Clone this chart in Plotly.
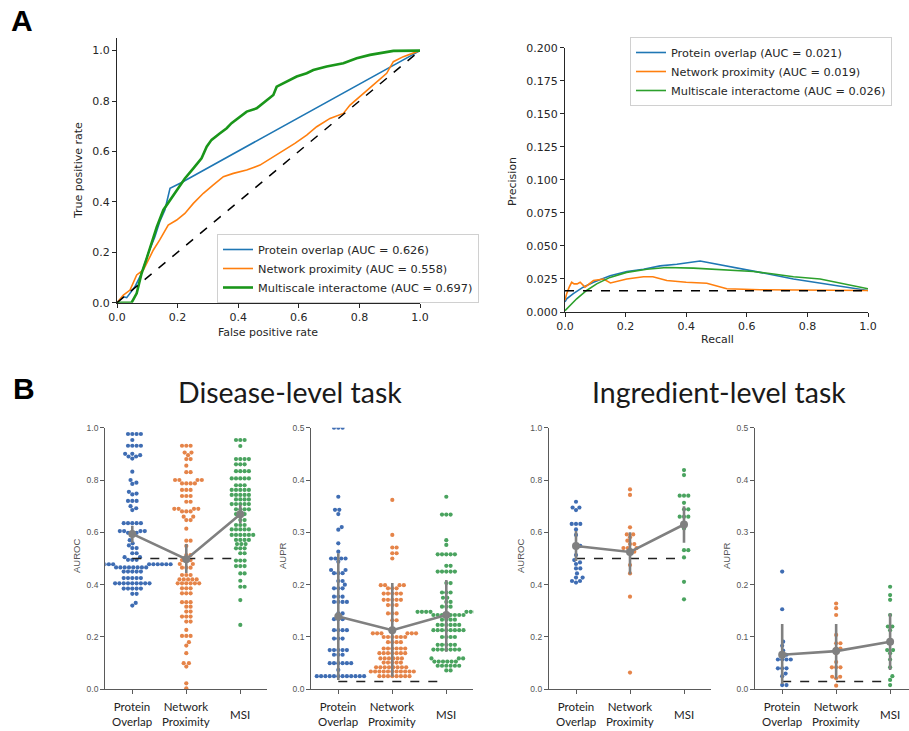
import numpy as np
import plotly.graph_objects as go

W, H = 909, 731

# ---------------- Panel A data ----------------
ROC_PO_FPR = [0, 0.021, 0.032, 0.059, 0.081, 0.103, 0.125, 0.141, 0.158, 0.175, 0.21, 1.0]
ROC_PO_TPR = [0, 0.024, 0.020, 0.063, 0.116, 0.196, 0.262, 0.321, 0.368, 0.454, 0.475, 1.0]

ROC_NP_FPR = [0, 0.021, 0.043, 0.065, 0.087, 0.103, 0.12, 0.141, 0.169, 0.197, 0.224, 0.252, 0.285,
              0.318, 0.351, 0.384, 0.428, 0.472, 0.516, 0.549, 0.587, 0.626, 0.659, 0.703, 0.747,
              0.769, 0.802, 0.846, 0.89, 0.912, 0.945, 1.0]
ROC_NP_TPR = [0, 0.030, 0.050, 0.110, 0.130, 0.169, 0.209, 0.249, 0.308, 0.328, 0.354, 0.394, 0.434,
              0.467, 0.500, 0.513, 0.526, 0.546, 0.579, 0.606, 0.632, 0.665, 0.698, 0.731, 0.751,
              0.784, 0.817, 0.864, 0.910, 0.956, 0.976, 1.0]

ROC_MSI_FPR = [0, 0.048, 0.065, 0.081, 0.098, 0.114, 0.131, 0.153, 0.175, 0.197, 0.224, 0.252, 0.279,
               0.296, 0.312, 0.340, 0.362, 0.378, 0.400, 0.428, 0.461, 0.488, 0.516, 0.527, 0.560,
               0.593, 0.626, 0.648, 0.692, 0.747, 0.791, 0.835, 0.912, 1.0]
ROC_MSI_TPR = [0, 0, 0.037, 0.116, 0.176, 0.235, 0.300, 0.368, 0.407, 0.447, 0.493, 0.533, 0.573,
               0.619, 0.646, 0.672, 0.692, 0.712, 0.731, 0.758, 0.771, 0.798, 0.824, 0.857, 0.877,
               0.897, 0.910, 0.923, 0.937, 0.950, 0.970, 0.983, 0.999, 1.0]

PR_PO_REC = [0, 0.0055, 0.0275, 0.06, 0.094, 0.149, 0.204, 0.259, 0.314, 0.369, 0.446, 0.534, 0.644,
             0.754, 0.864, 1.0]
PR_PO_PREC = [0.0077, 0.010, 0.0139, 0.0188, 0.0225, 0.0275, 0.0307, 0.0324, 0.0349, 0.0361, 0.0386,
              0.0349, 0.030, 0.025, 0.0213, 0.0163]

PR_NP_REC = [0, 0.0055, 0.014, 0.022, 0.03, 0.04, 0.05, 0.066, 0.094, 0.127, 0.15, 0.204, 0.259,
             0.29, 0.336, 0.40, 0.468, 0.50, 0.534, 0.644, 1.0]
PR_NP_PREC = [0.0089, 0.0139, 0.0188, 0.0225, 0.0213, 0.0213, 0.0225, 0.0188, 0.0238, 0.025, 0.022,
              0.025, 0.0267, 0.0267, 0.0238, 0.0225, 0.0218, 0.020, 0.0176, 0.0168, 0.0163]

PR_MSI_REC = [0, 0.0165, 0.0385, 0.0715, 0.1045, 0.1485, 0.2035, 0.27, 0.3355, 0.424, 0.49, 0.556,
              0.622, 0.688, 0.754, 0.842, 0.919, 1.0]
PR_MSI_PREC = [0.001, 0.0052, 0.010, 0.0163, 0.0213, 0.0262, 0.030, 0.0324, 0.0337, 0.0332, 0.0324,
               0.0317, 0.0307, 0.0287, 0.0267, 0.025, 0.0213, 0.0176]

PR_BASELINE = 0.016
ROC_LABELS = ["Protein overlap (AUC = 0.626)", "Network proximity (AUC = 0.558)",
              "Multiscale interactome (AUC = 0.697)"]
PR_LABELS = ["Protein overlap (AUC = 0.021)", "Network proximity (AUC = 0.019)",
             "Multiscale interactome (AUC = 0.026)"]

# ---------------- Panel B data ----------------
CATEGORIES = ["Protein<br>Overlap", "Network<br>Proximity", "MSI"]

DIS_AUROC_PO = [0.976, 0.976, 0.976, 0.976, 0.953, 0.931, 0.931, 0.931, 0.931, 0.90, 0.90, 0.895,
                0.89, 0.89, 0.882, 0.832, 0.80, 0.79, 0.785, 0.755, 0.748, 0.745, 0.72, 0.72, 0.72,
                0.70, 0.692, 0.685, 0.635, 0.635, 0.635, 0.635, 0.635, 0.605, 0.605, 0.605, 0.605,
                0.598, 0.598, 0.598, 0.57, 0.558, 0.55, 0.54, 0.54, 0.52, 0.52, 0.505, 0.505,
                0.495, 0.495, 0.495] + [0.478] * 11 + [0.466] * 8 + [0.45] * 5 + [0.425] * 5 + \
               [0.405] * 9 + [0.385] * 5 + [0.365, 0.365, 0.33, 0.32]
DIS_AUROC_NP = [0.931, 0.931, 0.931, 0.905, 0.905, 0.895, 0.88, 0.88, 0.855, 0.83, 0.83, 0.80, 0.80,
                0.80, 0.80, 0.787, 0.787, 0.787, 0.787, 0.762, 0.762, 0.762, 0.739, 0.739, 0.739,
                0.717, 0.717, 0.69, 0.69, 0.69, 0.69, 0.68, 0.68, 0.68, 0.66, 0.66, 0.647, 0.647,
                0.614, 0.568, 0.568, 0.548, 0.513, 0.513, 0.494, 0.494, 0.494, 0.479, 0.479, 0.465,
                0.465, 0.465, 0.437, 0.437, 0.437, 0.42, 0.42, 0.42, 0.42, 0.42, 0.405, 0.405, 0.405,
                0.405, 0.405, 0.405, 0.386, 0.386, 0.386, 0.367, 0.367, 0.367, 0.333, 0.333, 0.333,
                0.316, 0.316, 0.297, 0.297, 0.278, 0.278, 0.278, 0.259, 0.259, 0.227, 0.204, 0.204,
                0.204, 0.18, 0.167, 0.138, 0.10, 0.10, 0.087, 0.023, 0.004]
DIS_AUROC_MSI = [0.953, 0.953, 0.953, 0.93, 0.88, 0.88, 0.88, 0.88, 0.86, 0.86, 0.86, 0.834, 0.834,
                 0.834, 0.834, 0.806, 0.806, 0.806, 0.806, 0.806, 0.78, 0.78, 0.78, 0.762, 0.762,
                 0.762, 0.762, 0.762, 0.743, 0.743, 0.743, 0.743, 0.743, 0.726, 0.726, 0.726, 0.726,
                 0.708, 0.708, 0.708, 0.708, 0.708, 0.688, 0.688, 0.688, 0.688, 0.67, 0.67, 0.67,
                 0.647, 0.647, 0.628, 0.628, 0.628, 0.611, 0.611, 0.611, 0.611, 0.611, 0.59, 0.59,
                 0.59, 0.59, 0.59, 0.59, 0.571, 0.571, 0.571, 0.571, 0.555, 0.555, 0.555, 0.539,
                 0.539, 0.539, 0.52, 0.52, 0.492, 0.492, 0.492, 0.471, 0.471, 0.471, 0.443, 0.443,
                 0.415, 0.392, 0.392, 0.341, 0.246]

DIS_AUPR_PO = [0.5, 0.5, 0.5, 0.368, 0.343, 0.343, 0.335, 0.31, 0.305, 0.279, 0.263, 0.25, 0.25,
               0.25, 0.25, 0.244, 0.228, 0.228, 0.222, 0.222, 0.222, 0.207, 0.207, 0.2, 0.193, 0.193,
               0.193, 0.177, 0.177, 0.177, 0.167, 0.167, 0.167, 0.167, 0.145, 0.145, 0.134, 0.134,
               0.134, 0.113, 0.113, 0.113, 0.113, 0.097, 0.097, 0.097, 0.075, 0.075, 0.075, 0.075,
               0.075, 0.066, 0.066, 0.066, 0.05, 0.05, 0.05, 0.05, 0.05, 0.05, 0.037] + [0.025] * 12
DIS_AUPR_NP = [0.362, 0.295, 0.271, 0.271, 0.26, 0.26, 0.25, 0.199, 0.199, 0.199, 0.199, 0.193, 0.193,
               0.193, 0.183, 0.183, 0.183, 0.183, 0.183, 0.171, 0.171, 0.171, 0.171, 0.171, 0.161,
               0.161, 0.161, 0.145, 0.145, 0.145, 0.132, 0.132] + [0.107] * 6 + [0.10] * 6 + \
              [0.09] * 4 + [0.078] * 6 + [0.069] * 7 + [0.059] * 6 + [0.051] * 5 + [0.042] * 8 + \
              [0.034] * 11 + [0.025] * 8
DIS_AUPR_MSI = [0.368, 0.334, 0.334, 0.334, 0.285, 0.276, 0.258, 0.258, 0.258, 0.258, 0.258, 0.236,
                0.236, 0.225, 0.225, 0.225, 0.225, 0.225, 0.203, 0.203, 0.185, 0.185, 0.185, 0.175,
                0.175, 0.167, 0.167, 0.158, 0.158, 0.158] + [0.148] * 7 + [0.142] * 8 + \
               [0.133] * 4 + [0.123] * 6 + [0.113] * 8 + [0.10] * 4 + [0.085] * 5 + [0.076] * 7 + \
               [0.059] * 3 + [0.053] * 6 + [0.045] * 6 + [0.036] * 2

ING_AUROC_PO = [0.717, 0.695, 0.695, 0.685, 0.632, 0.632, 0.632, 0.611, 0.59, 0.548, 0.548, 0.513,
                0.494, 0.485, 0.479, 0.462, 0.462, 0.443, 0.427, 0.427, 0.414, 0.414, 0.408]
ING_AUROC_NP = [0.764, 0.743, 0.619, 0.592, 0.592, 0.581, 0.568, 0.555, 0.555, 0.54, 0.54, 0.54,
                0.526, 0.526, 0.475, 0.443, 0.354, 0.064]
ING_AUROC_MSI = [0.838, 0.819, 0.74, 0.74, 0.74, 0.713, 0.688, 0.688, 0.66, 0.66, 0.66, 0.615,
                 0.532, 0.532, 0.504, 0.411, 0.344]

ING_AUPR_PO = [0.225, 0.153, 0.091, 0.083, 0.074, 0.066, 0.066, 0.057, 0.057, 0.057, 0.057, 0.040,
               0.040, 0.040, 0.03, 0.025, 0.008, 0.008]
ING_AUPR_NP = [0.164, 0.155, 0.142, 0.104, 0.088, 0.088, 0.078, 0.078, 0.069, 0.052, 0.042, 0.042,
               0.042, 0.024, 0.024, 0.021, 0.007]
ING_AUPR_MSI = [0.196, 0.18, 0.171, 0.142, 0.12, 0.12, 0.113, 0.075, 0.075, 0.069, 0.057, 0.042,
                0.025, 0.018, 0.008]

DIS_AUROC_MEAN, DIS_AUROC_LO, DIS_AUROC_HI = [0.594, 0.497, 0.669], [0.56, 0.445, 0.635], [0.625, 0.555, 0.705]
DIS_AUPR_MEAN, DIS_AUPR_LO, DIS_AUPR_HI = [0.139, 0.113, 0.142], [0.018, 0.024, 0.072], [0.26, 0.203, 0.209]
ING_AUROC_MEAN, ING_AUROC_LO, ING_AUROC_HI = [0.548, 0.525, 0.63], [0.49, 0.44, 0.56], [0.605, 0.60, 0.70]
ING_AUPR_MEAN, ING_AUPR_LO, ING_AUPR_HI = [0.066, 0.073, 0.091], [0.01, 0.02, 0.037], [0.125, 0.125, 0.145]

AUROC_BASELINE = 0.5
AUPR_BASELINE = 0.015

# ---------------- styling ----------------
C_BLUE, C_ORANGE, C_GREEN, C_GREEN_ROC = "#1f77b4", "#ff7f0e", "#2ca02c", "#1a961a"
SW_COLORS = ["#3f6db3", "#e58449", "#4aa35f"]
GRAY = "#808080"
AX_COL = "#262626"
B_AX = "#5a5a5a"


def px_x(p):
    return p / W


def px_y(p):
    return 1 - p / H


def swarm_offsets(values, ypx_per_unit, xpx_per_unit=54.0, d=4.3):
    vals = np.asarray(values, dtype=float)
    order = np.argsort(vals, kind="stable")
    placed = []
    offs = np.zeros(len(vals))
    for i in order:
        y = vals[i] * ypx_per_unit
        near = [(px, py) for px, py in placed if abs(py - y) < d]
        cands = [0.0]
        for px, py in near:
            dx = np.sqrt(max(d * d - (py - y) ** 2, 0.0))
            cands += [px + dx, px - dx]
        cands.sort(key=lambda c: (round(abs(c), 6), -c))
        chosen = 0.0
        for c in cands:
            if all((c - px) ** 2 + (y - py) ** 2 >= d * d - 1e-6 for px, py in near):
                chosen = c
                break
        placed.append((chosen, y))
        offs[i] = chosen / xpx_per_unit
    return offs


fig = go.Figure()

# ---------- ROC ----------
for fx, ty, col, wdt, lab in [(ROC_PO_FPR, ROC_PO_TPR, C_BLUE, 1.6, ROC_LABELS[0]),
                              (ROC_NP_FPR, ROC_NP_TPR, C_ORANGE, 1.6, ROC_LABELS[1]),
                              (ROC_MSI_FPR, ROC_MSI_TPR, C_GREEN_ROC, 2.6, ROC_LABELS[2])]:
    fig.add_trace(go.Scatter(x=fx, y=ty, mode="lines", line=dict(color=col, width=wdt),
                             name=lab, xaxis="x", yaxis="y", legend="legend"))
fig.add_trace(go.Scatter(x=[0, 1], y=[0, 1], mode="lines", showlegend=False,
                         line=dict(color="black", width=1.5, dash="dash"), xaxis="x", yaxis="y"))

# ---------- PR ----------
for rx, py, col, lab in [(PR_PO_REC, PR_PO_PREC, C_BLUE, PR_LABELS[0]),
                         (PR_NP_REC, PR_NP_PREC, C_ORANGE, PR_LABELS[1]),
                         (PR_MSI_REC, PR_MSI_PREC, C_GREEN, PR_LABELS[2])]:
    fig.add_trace(go.Scatter(x=rx, y=py, mode="lines", line=dict(color=col, width=1.6),
                             name=lab, xaxis="x2", yaxis="y2", legend="legend2"))
fig.add_trace(go.Scatter(x=[0, 1], y=[PR_BASELINE, PR_BASELINE], mode="lines", showlegend=False,
                         line=dict(color="black", width=1.5, dash="dash"), xaxis="x2", yaxis="y2"))

# ---------- Panel B ----------
panels = [
    ("x3", "y3", [DIS_AUROC_PO, DIS_AUROC_NP, DIS_AUROC_MSI], 261.6, AUROC_BASELINE,
     DIS_AUROC_MEAN, DIS_AUROC_LO, DIS_AUROC_HI),
    ("x4", "y4", [DIS_AUPR_PO, DIS_AUPR_NP, DIS_AUPR_MSI], 523.2, AUPR_BASELINE,
     DIS_AUPR_MEAN, DIS_AUPR_LO, DIS_AUPR_HI),
    ("x5", "y5", [ING_AUROC_PO, ING_AUROC_NP, ING_AUROC_MSI], 261.6, AUROC_BASELINE,
     ING_AUROC_MEAN, ING_AUROC_LO, ING_AUROC_HI),
    ("x6", "y6", [ING_AUPR_PO, ING_AUPR_NP, ING_AUPR_MSI], 523.2, AUPR_BASELINE,
     ING_AUPR_MEAN, ING_AUPR_LO, ING_AUPR_HI),
]
for xa, ya, groups, ypu, base, mean, lo, hi in panels:
    for k, vals in enumerate(groups):
        offs = swarm_offsets(vals, ypu)
        fig.add_trace(go.Scatter(x=k + offs, y=vals, mode="markers", showlegend=False,
                                 marker=dict(size=4.2, color=SW_COLORS[k], line=dict(width=0)),
                                 xaxis=xa, yaxis=ya))
    fig.add_trace(go.Scatter(x=[0, 2], y=[base, base], mode="lines", showlegend=False,
                             line=dict(color="#222222", width=1.4, dash="dash"), xaxis=xa, yaxis=ya))
    m = np.array(mean)
    fig.add_trace(go.Scatter(x=[0, 1, 2], y=mean, mode="lines+markers", showlegend=False,
                             line=dict(color=GRAY, width=2.6),
                             marker=dict(size=8, color=GRAY),
                             error_y=dict(type="data", symmetric=False,
                                          array=list(np.array(hi) - m),
                                          arrayminus=list(m - np.array(lo)),
                                          width=0, thickness=2.6, color=GRAY),
                             xaxis=xa, yaxis=ya))

# ---------- layout ----------
a_font = dict(family="DejaVu Sans", size=11, color=AX_COL)
a_axis = dict(showline=True, linecolor=AX_COL, linewidth=1, ticks="outside", ticklen=4,
              tickcolor=AX_COL, tickfont=a_font, showgrid=False, zeroline=False, mirror=False,
              automargin=False)
b_axis = dict(showline=True, linecolor=B_AX, linewidth=1.3, ticks="outside", ticklen=4,
              tickcolor=B_AX, tickwidth=1.2, showgrid=False, zeroline=False, mirror=False,
              automargin=False,
              tickfont=dict(family="Liberation Sans", size=8.5, color="#555555"))

b_ydom = [px_y(689.3), px_y(427.7)]
leg_font = dict(family="DejaVu Sans", size=11.3, color=AX_COL)
layout = dict(
    width=W, height=H, margin=dict(l=0, r=0, t=0, b=0, pad=0), autosize=False,
    paper_bgcolor="white", plot_bgcolor="white", showlegend=True,
    xaxis=dict(a_axis, domain=[px_x(117), px_x(420)], range=[0, 1],
               tickvals=[0, 0.2, 0.4, 0.6, 0.8, 1.0], tickformat=".1f", anchor="y"),
    yaxis=dict(a_axis, domain=[px_y(302.7), px_y(38)], range=[0, 1.05],
               tickvals=[0, 0.2, 0.4, 0.6, 0.8, 1.0], tickformat=".1f", anchor="x"),
    xaxis2=dict(a_axis, domain=[px_x(565), px_x(868)], range=[0, 1],
                tickvals=[0, 0.2, 0.4, 0.6, 0.8, 1.0], tickformat=".1f", anchor="y2"),
    yaxis2=dict(a_axis, domain=[px_y(312), px_y(47.7)], range=[0, 0.2],
                dtick=0.025, tick0=0, tickformat=".3f", anchor="x2"),
    xaxis3=dict(b_axis, domain=[px_x(105.3), px_x(267.3)], range=[-0.5, 2.5],
                tickvals=[0, 1, 2], showticklabels=False, anchor="y3"),
    yaxis3=dict(b_axis, domain=b_ydom, range=[0, 1.0], dtick=0.2, tick0=0, tickformat=".1f", anchor="x3"),
    xaxis4=dict(b_axis, domain=[px_x(311.3), px_x(473.3)], range=[-0.5, 2.5],
                tickvals=[0, 1, 2], showticklabels=False, anchor="y4"),
    yaxis4=dict(b_axis, domain=b_ydom, range=[0, 0.5], dtick=0.1, tick0=0, tickformat=".1f", anchor="x4"),
    xaxis5=dict(b_axis, domain=[px_x(549), px_x(711)], range=[-0.5, 2.5],
                tickvals=[0, 1, 2], showticklabels=False, anchor="y5"),
    yaxis5=dict(b_axis, domain=b_ydom, range=[0, 1.0], dtick=0.2, tick0=0, tickformat=".1f", anchor="x5"),
    xaxis6=dict(b_axis, domain=[px_x(755.2), 1.0], range=[-0.5, 2.35],
                tickvals=[0, 1, 2], showticklabels=False, anchor="y6"),
    yaxis6=dict(b_axis, domain=b_ydom, range=[0, 0.5], dtick=0.1, tick0=0, tickformat=".1f", anchor="x6"),
    legend=dict(x=px_x(217), y=px_y(234), xanchor="left", yanchor="top",
                bgcolor="rgba(255,255,255,0.85)", bordercolor="#d0d0d0", borderwidth=1,
                font=leg_font, itemwidth=30),
    legend2=dict(x=px_x(630), y=px_y(37), xanchor="left", yanchor="top",
                 bgcolor="rgba(255,255,255,0.85)", bordercolor="#d0d0d0", borderwidth=1,
                 font=leg_font, itemwidth=30),
)
fig.update_layout(**layout)

ann = []
ann.append(dict(text="<b>A</b>", x=px_x(9), y=px_y(21), xref="paper", yref="paper",
                xanchor="left", yanchor="middle", showarrow=False,
                font=dict(family="Liberation Sans", size=30, color="black")))
ann.append(dict(text="<b>B</b>", x=px_x(11), y=px_y(388), xref="paper", yref="paper",
                xanchor="left", yanchor="middle", showarrow=False,
                font=dict(family="Liberation Sans", size=30, color="black")))
ann.append(dict(text="True positive rate", x=px_x(78), y=px_y(171), xref="paper", yref="paper",
                textangle=-90, showarrow=False, font=a_font, xanchor="center", yanchor="middle"))
ann.append(dict(text="False positive rate", x=px_x(268), y=px_y(332), xref="paper", yref="paper",
                showarrow=False, font=a_font, xanchor="center", yanchor="middle"))
ann.append(dict(text="Precision", x=px_x(512), y=px_y(182), xref="paper", yref="paper",
                textangle=-90, showarrow=False, font=a_font, xanchor="center", yanchor="middle"))
ann.append(dict(text="Recall", x=px_x(717), y=px_y(340), xref="paper", yref="paper",
                showarrow=False, font=a_font, xanchor="center", yanchor="middle"))
title_font = dict(family="Lato", size=28.5, color="#1a1a1a")
ann.append(dict(text="Disease-level task", x=px_x(290), y=px_y(392), xref="paper", yref="paper",
                showarrow=False, font=title_font, xanchor="center", yanchor="middle"))
ann.append(dict(text="Ingredient-level task", x=px_x(719), y=px_y(392), xref="paper", yref="paper",
                showarrow=False, font=title_font, xanchor="center", yanchor="middle"))
ylab_font = dict(family="Liberation Sans", size=9.5, color="#555555")
for xp, lab in [(76, "AUROC"), (282, "AUPR"), (520, "AUROC"), (726, "AUPR")]:
    ann.append(dict(text=lab, x=px_x(xp), y=px_y(556), xref="paper", yref="paper", textangle=-90,
                    showarrow=False, font=ylab_font, xanchor="center", yanchor="middle"))
cat_font = dict(family="Lato", size=11.5, color="#222222")
for xa in ["x3", "x4", "x5", "x6"]:
    for k, lab in enumerate(CATEGORIES):
        ann.append(dict(text=lab, x=k, y=px_y(714), xref=xa, yref="paper", showarrow=False,
                        font=cat_font, xanchor="center", yanchor="middle"))
fig.update_layout(annotations=ann)

fig.write_html("out.html", config={"displayModeBar": False},
               post_script="document.body.style.margin='0px';document.body.style.padding='0px';")
